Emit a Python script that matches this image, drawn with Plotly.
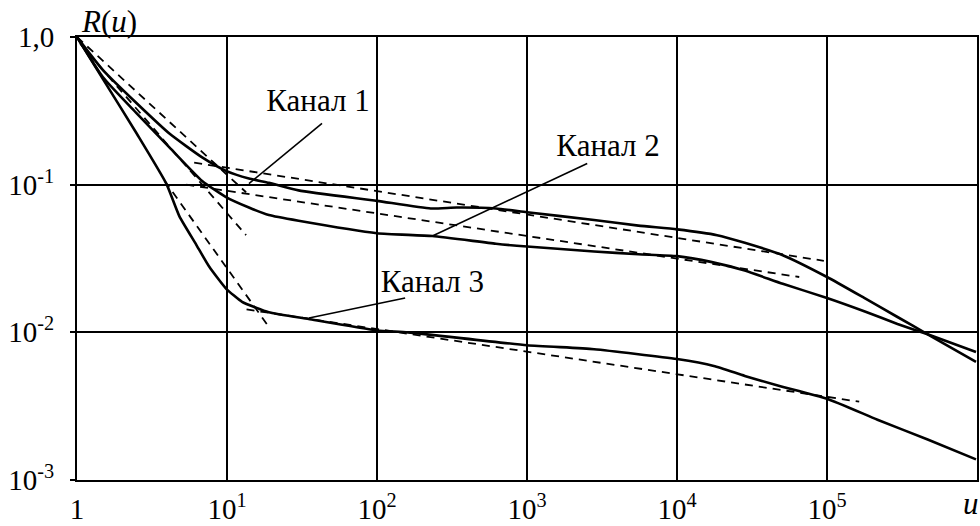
import plotly.graph_objects as go

# Correlation function R(u) for three channels, log-log axes
ch1_u = [1, 1.49, 2.5, 4.13, 6.83, 9.85, 14, 19, 30, 100, 228, 340, 620, 1000, 2800, 5530,
         1e4, 18500, 28300, 50700, 1e5, 177000, 295000, 469000, 985000]
ch1_r = [1.0, 0.597, 0.356, 0.222, 0.153, 0.124, 0.110, 0.103, 0.0915, 0.0777, 0.069, 0.070,
         0.069, 0.065, 0.0577, 0.0528, 0.0498, 0.0455, 0.0404, 0.0333, 0.0237, 0.0171, 0.0127,
         0.0097, 0.0063]

ch2_u = [1, 1.49, 2.5, 4.13, 6.83, 9.85, 14, 19, 30, 100, 234, 620, 1000, 2800, 5530,
         1e4, 16800, 28300, 50700, 1e5, 177000, 295000, 469000, 985000]
ch2_r = [1.0, 0.534, 0.304, 0.179, 0.106, 0.0824, 0.070, 0.0622, 0.0569, 0.0469, 0.0449,
         0.0398, 0.0381, 0.0353, 0.0338, 0.0328, 0.030, 0.0262, 0.0213, 0.0171, 0.0139,
         0.0114, 0.0097, 0.00735]

ch3_u = [1, 1.49, 2.5, 3.94, 4.81, 6.23, 7.6, 9.85, 12.6, 15.6, 19, 35, 100, 161, 1000,
         2800, 1e4, 17600, 28300, 47600, 1e5, 217000, 469000, 985000]
ch3_r = [1.0, 0.518, 0.222, 0.1016, 0.0612, 0.0393, 0.0279, 0.0198, 0.0161, 0.0147, 0.0137,
         0.0123, 0.0103, 0.010, 0.00818, 0.00769, 0.00659, 0.00592, 0.00507, 0.00435,
         0.00355, 0.00256, 0.00188, 0.00138]

# Power-law asymptotes (start / end points)
asym1_steep_u = [1, 13.4]
asym1_steep_r = [1.0, 0.0888]
asym1_flat_u = [6.04, 95300]
asym1_flat_r = [0.141, 0.0305]
asym2_steep_u = [1.05, 13.4]
asym2_steep_r = [0.9, 0.0455]
asym2_flat_u = [5.35, 65300]
asym2_flat_r = [0.1, 0.0237]
asym3_steep_u = [3.83, 19]
asym3_steep_r = [0.1064, 0.0109]
asym3_flat_u = [13.5, 164000]
asym3_flat_r = [0.0143, 0.00339]

# Channel captions and their leader lines
label_text = ["Канал 1", "Канал 2", "Канал 3"]
label_u = [40.4, 3470, 234]
label_r = [0.356, 0.176, 0.0213]
leader_u = [[14, 43], [234, 2520], [35.2, 154]]
leader_r = [[0.1016, 0.26], [0.0449, 0.139], [0.0125, 0.0171]]

x_ticks = [1, 10, 100, 1000, 1e4, 1e5, 1e6]
x_ticktext = ["1", "10<sup>1</sup>", "10<sup>2</sup>", "10<sup>3</sup>",
              "10<sup>4</sup>", "10<sup>5</sup>", ""]
y_ticks = [0.001, 0.01, 0.1, 1]
y_ticktext = ["10<sup>-3</sup>", "10<sup>-2</sup>", "10<sup>-1</sup>", "1,0"]

FONT = "Liberation Serif, Times New Roman, serif"
INK = "black"

fig = go.Figure()

for u, r in [(ch1_u, ch1_r), (ch2_u, ch2_r), (ch3_u, ch3_r)]:
    fig.add_trace(go.Scatter(x=u, y=r, mode="lines",
                             line=dict(color=INK, width=2.6, shape="spline", smoothing=0.5),
                             hoverinfo="skip"))

for u, r in [(asym1_steep_u, asym1_steep_r), (asym1_flat_u, asym1_flat_r),
             (asym2_steep_u, asym2_steep_r), (asym2_flat_u, asym2_flat_r),
             (asym3_steep_u, asym3_steep_r), (asym3_flat_u, asym3_flat_r)]:
    fig.add_trace(go.Scatter(x=u, y=r, mode="lines",
                             line=dict(color=INK, width=1.8, dash="8px,6px"),
                             hoverinfo="skip"))

for u, r in zip(leader_u, leader_r):
    fig.add_trace(go.Scatter(x=u, y=r, mode="lines",
                             line=dict(color=INK, width=1.6), hoverinfo="skip"))

fig.add_trace(go.Scatter(x=label_u, y=label_r, mode="text", text=label_text,
                         textposition="middle center",
                         textfont=dict(family=FONT, size=31, color=INK),
                         hoverinfo="skip"))

fig.update_layout(
    width=980, height=526,
    margin=dict(l=77, r=1, t=37, b=38),
    paper_bgcolor="white", plot_bgcolor="white",
    showlegend=False,
    font=dict(family=FONT, size=29, color=INK),
    xaxis=dict(type="log", range=[0, 6], tickmode="array", tickvals=x_ticks,
               ticktext=x_ticktext, showgrid=True, gridcolor=INK, gridwidth=2,
               showline=True, linecolor=INK, linewidth=2, mirror=True,
               ticks="", zeroline=False, ticklabelstandoff=2,
               tickfont=dict(family=FONT, size=29, color=INK)),
    yaxis=dict(type="log", range=[-3, 0], tickmode="array", tickvals=y_ticks,
               ticktext=y_ticktext, showgrid=True, gridcolor=INK, gridwidth=2,
               showline=True, linecolor=INK, linewidth=2, mirror=True,
               ticks="outside", ticklen=5, tickwidth=2, tickcolor=INK,
               zeroline=False, ticklabelstandoff=10,
               tickfont=dict(family=FONT, size=29, color=INK)),
    annotations=[
        dict(text="<i>R</i>(<i>u</i>)", xref="paper", yref="paper", x=0.036, y=1.035,
             xanchor="center", yanchor="middle", showarrow=False,
             font=dict(family=FONT, size=31, color=INK)),
        dict(text="<i>u</i>", xref="paper", yref="paper", x=0.982, y=-0.053,
             xanchor="left", yanchor="middle", showarrow=False,
             font=dict(family=FONT, size=31, color=INK)),
    ],
)

fig.write_html("out.html")
